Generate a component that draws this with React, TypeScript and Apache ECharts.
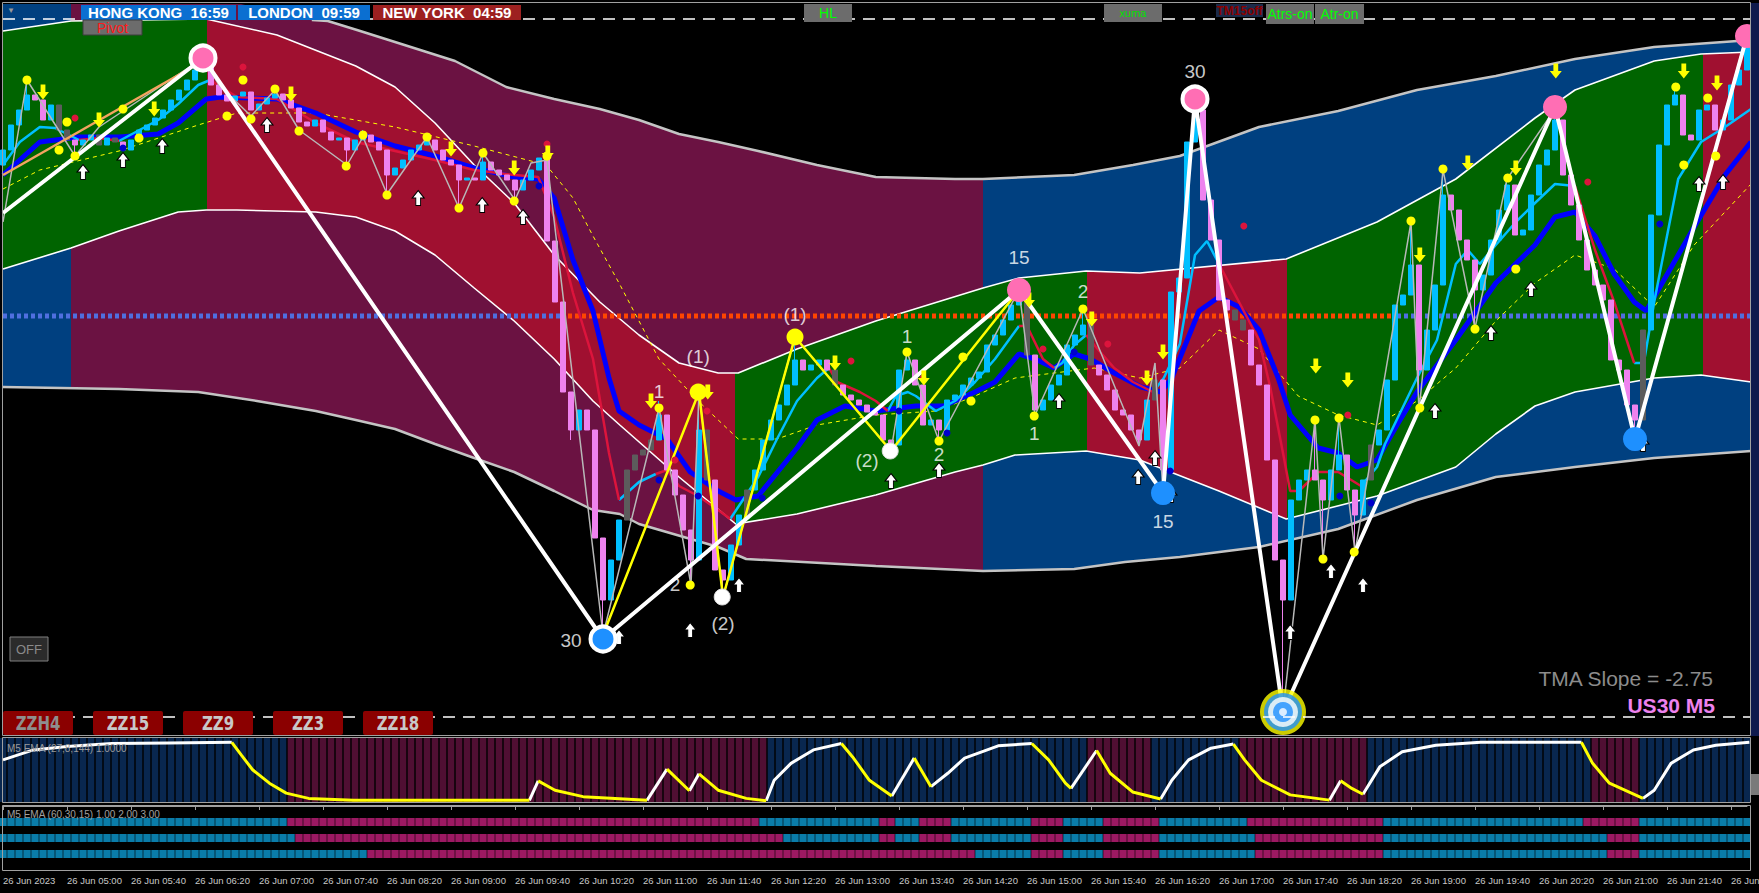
import React, { useEffect, useRef } from 'react';
import * as echarts from 'echarts';

// ---------------- time axis ----------------
const X_MAX = 218.375;
const FIRST_BAR_MINUTES = 4 * 60 + 20; // 04:20
const DAY_PREFIX = '26 Jun';
const FIRST_LABEL = '26 Jun 2023';

// ---------------- candles (US30 M5) ----------------
const firstOpen = 34235;
const closes = [
  34250, 34275, 34290, 34305, 34300, 34280, 34295, 34270, 34260, 34255,
  34260, 34265, 34255, 34262, 34258, 34250, 34260, 34270, 34275, 34282,
  34290, 34300, 34310, 34320, 34330, 34338, 34315, 34305, 34299, 34304,
  34308, 34290, 34296, 34302, 34306, 34300, 34292, 34278, 34274, 34280,
  34268, 34260, 34262, 34250, 34260, 34265, 34258, 34250, 34225, 34232,
  34240, 34250, 34255, 34260, 34250, 34240, 34235, 34220, 34222, 34220,
  34238, 34230, 34225, 34220, 34210, 34220, 34230, 34242, 34159, 34098,
  34008, 33970, 33990, 33970, 33862, 33800, 33840, 33880, 33930, 33945,
  33950, 33960, 33985, 33930, 33905, 33870, 33840, 33970, 33920, 33830,
  33820, 33855, 33885, 33910, 33930, 33960, 33980, 33995, 34015, 34040,
  34030, 34035, 34040, 34030, 34015, 34005, 34000, 33995, 33988, 33985,
  33960, 33955, 34030, 34040, 34015, 33975, 33980, 33970, 34000, 34005,
  34015, 34022, 34028, 34055, 34065, 34080, 34095, 34105, 34045, 33990,
  34000, 34015, 34025, 34055, 34065, 34075, 34035, 34025, 34010, 33990,
  33985, 33970, 33960, 34000, 34020, 33930, 34108, 34122, 34258, 34290,
  34200, 34160, 34100, 34090, 34080, 34070, 34035, 34015, 33940, 33840,
  33800, 33900, 33920, 33930, 33920, 33900, 33930, 33945, 33910, 33885,
  33920, 33955, 33970, 34020, 34095, 34105, 34135, 34030, 34070, 34115,
  34205, 34190, 34160, 34140, 34110, 34125, 34160, 34190, 34215, 34165,
  34170, 34205, 34235, 34250, 34280, 34225, 34195, 34160, 34130, 34115,
  34100, 34040, 34030, 33995, 33980, 34070, 34185, 34255, 34295, 34305,
  34265, 34260, 34290, 34295, 34270, 34280, 34315, 34330, 34360,
];
const highExtremes = [
  [3, 34320], [25, 34345], [34, 34312], [45, 34270], [53, 34263], [60, 34247], [68, 34250],
  [82, 33999], [87, 34008], [99, 34063], [113, 34048], [127, 34110], [135, 34091], [149, 34301],
  [164, 33980], [167, 33982], [176, 34178], [180, 34230], [188, 34223], [194, 34293], [209, 34315], [218, 34367],
];
const lowExtremes = [
  [9, 34244], [43, 34235], [48, 34205], [57, 34192], [64, 34200], [71, 33960], [75, 33761], [86, 33815],
  [90, 33803], [111, 33949], [117, 33959], [129, 33985], [142, 33954], [145, 33907], [160, 33688],
  [165, 33841], [169, 33848], [177, 33989], [184, 34072], [204, 33961],
];
const grayBars = [7, 8, 12, 14, 78, 79, 80, 81, 88, 93, 104, 128, 136, 144, 154, 155, 171, 205];

// ---------------- TMA bands ----------------
const outerUpper = [
  [0, 34396], [29.75, 34396], [38.6, 34380], [40.6, 34379], [44.25, 34370], [49, 34358], [56.5, 34339],
  [62.9, 34313], [68.9, 34301], [74.6, 34291], [79.5, 34280], [84.5, 34266], [89.4, 34258], [94.4, 34249],
  [101.75, 34235], [109.1, 34223], [119, 34221], [122.5, 34221], [133.9, 34225], [141.25, 34235],
  [147.1, 34244], [157, 34273], [166.9, 34289], [176.75, 34310], [186.6, 34324], [196.5, 34341],
  [206.4, 34353], [218.5, 34360],
];
const outerLower = [
  [0, 34013], [14.5, 34011], [24.4, 34008], [31.75, 33999], [39.1, 33989], [44.1, 33980], [49, 33971],
  [54, 33956], [58.9, 33942], [63.9, 33928], [68.9, 33909], [73.75, 33890], [77.1, 33886], [79.5, 33876],
  [89.4, 33853], [92.9, 33841], [109.1, 33834], [122.5, 33829], [133.9, 33831], [140.25, 33838],
  [147.1, 33843], [157, 33853], [166.9, 33871], [176.75, 33900], [186.6, 33923], [196.5, 33933],
  [206.4, 33942], [218.5, 33949],
];
const innerUpper = [
  [0, 34369], [8.5, 34379], [25.4, 34381], [34.25, 34365], [44.1, 34334], [49, 34313], [54, 34277],
  [58.9, 34235], [63.9, 34197], [68.9, 34145], [74.6, 34098], [79.5, 34065], [84.5, 34037], [89.4, 34027],
  [91.9, 34027], [99.25, 34051], [109.1, 34079], [122.5, 34112], [127, 34122], [135.4, 34129],
  [142.1, 34127], [160.4, 34141], [171.75, 34178], [181.6, 34221], [191.5, 34282], [196.5, 34310],
  [206.4, 34339], [212.25, 34346], [218.5, 34348],
];
const innerLower = [
  [0, 34131], [8.5, 34152], [14.5, 34169], [21.9, 34188], [25.4, 34190], [29.25, 34190], [39.1, 34188],
  [44.1, 34183], [49, 34169], [54, 34145], [58.9, 34112], [63.9, 34079], [68.9, 34041], [73.75, 33999],
  [77.1, 33975], [84.5, 33923], [91.6, 33876], [99.25, 33886], [109.1, 33905], [119, 33928],
  [122.5, 33935], [126.5, 33945], [135.4, 33949], [142.1, 33940], [152, 33909], [160.4, 33881],
  [171.75, 33904], [181.6, 33933], [186.6, 33966], [191.5, 33994], [196.5, 34008], [206.4, 34022],
  [212.25, 34025], [218.5, 34018],
];
const sessionStarts = [0, 8.5, 25.5, 91.5, 122.5, 135.5, 160.5, 212.5];
const sessionInner = ['green', 'green', 'crimson', 'green', 'green', 'crimson', 'green', 'crimson'];
const sessionOuter = ['blue', 'purple', 'purple', 'purple', 'blue', 'blue', 'blue', 'blue'];

// pivot level (dotted)
const pivotLevel = 34084;
const pivotSegments = [[0, 69.75, 'below'], [69.75, 174.25, 'above'], [174.25, 218.375, 'below']];

// ---------------- moving averages ----------------
const slowMa = [
  [0, 34225], [4.6, 34258], [9.5, 34263], [14.5, 34263], [19.4, 34266], [21.9, 34277], [25.4, 34301],
  [27.25, 34303], [34.25, 34301], [39.1, 34287], [44.1, 34268], [49, 34254], [54, 34244], [58.9, 34232],
  [63.9, 34223], [66.9, 34221], [68.9, 34202], [71.25, 34140], [73.75, 34089], [75.75, 34022], [77, 33989],
  [79.5, 33975], [83, 33961], [85.9, 33928], [89.4, 33909], [91.6, 33900], [94.4, 33904], [99.25, 33952],
  [101.75, 33980], [105.25, 33994], [109.1, 33989], [114.1, 33994], [117.6, 33994], [121.5, 34008],
  [124, 34018], [127, 34046], [129, 34041], [131.4, 34032], [133.9, 34046], [135.9, 34041], [138.9, 34027],
  [142.25, 34013], [144.75, 34008], [146.1, 34022], [149.5, 34089], [152, 34103], [154.5, 34093],
  [157, 34070], [159.4, 34022], [160.9, 33985], [164.4, 33952], [166.9, 33947], [169.25, 33933],
  [171.75, 33940], [174.25, 33975], [176.75, 34008], [181.6, 34060], [186.6, 34117], [191.5, 34155],
  [194, 34183], [196.5, 34188], [199, 34164], [201.4, 34126], [203.9, 34098], [205.4, 34089],
  [207.4, 34117], [211.4, 34173], [215.25, 34225], [218.5, 34258],
];
const fastMaUp = [
  [[0, 34235], [2.1, 34258], [4.6, 34273], [6.5, 34272], [9.5, 34260]],
  [[14.5, 34259], [19.4, 34280], [21.9, 34296], [24.4, 34315], [25.9, 34320]],
  [[77, 33900], [79.5, 33918], [81.6, 33926]],
  [[90.9, 33881], [94.4, 33923], [96.75, 33961], [99.25, 33999], [101.75, 34022], [103.25, 34032]],
  [[110.6, 33989], [111.6, 34004], [113.1, 34008], [114.1, 34004], [116.6, 33989], [119, 33999], [121.5, 34018], [124, 34041], [127, 34074]],
  [[131.4, 34032], [132.4, 34037], [133.9, 34055], [135.4, 34065]],
  [[143.75, 34008], [145.1, 34022], [147.1, 34056], [149, 34145], [150.5, 34159], [152, 34136]],
  [[169.75, 33914], [171.75, 33933], [172.75, 33956], [174.75, 33989], [176.75, 34022], [179.25, 34060], [181.6, 34136], [183.1, 34150], [184.6, 34136], [186.6, 34155], [189.1, 34178], [191.5, 34197], [194, 34216], [196.5, 34214]],
  [[203.9, 34037], [205.1, 34037], [206.4, 34098], [208, 34164], [209.4, 34221], [212.25, 34258], [215.25, 34273], [218.5, 34291]],
];
const fastMaDown = [
  [[9.5, 34260], [12, 34262], [14.5, 34259]],
  [[25.9, 34320], [29.25, 34303], [34.25, 34301], [39.1, 34277], [44.1, 34258], [49, 34249], [54, 34240], [58.9, 34230], [63.9, 34225], [66.9, 34223], [68.9, 34183], [71.25, 34107], [73.75, 34041], [75.75, 33947], [77, 33900]],
  [[81.6, 33926], [83, 33930], [84.5, 33914], [86.9, 33904], [89.4, 33890], [90.9, 33881]],
  [[103.25, 34032], [104.25, 34018], [107.1, 34008], [109.1, 33999], [110.6, 33989]],
  [[127, 34074], [128, 34074], [130, 34041], [131.4, 34032]],
  [[135.4, 34065], [136.4, 34055], [138.9, 34032], [141.25, 34018], [143.75, 34008]],
  [[152, 34136], [154.5, 34098], [157, 34060], [158.4, 34013], [160, 33947], [160.9, 33909], [162, 33909], [164.4, 33928], [166.9, 33928], [169.75, 33914]],
  [[196.5, 34214], [199, 34150], [201.4, 34098], [203.9, 34037]],
];
const signalMa = [
  [0, 34211], [4.6, 34230], [14.5, 34249], [24.4, 34275], [29.25, 34287], [39.1, 34287], [49, 34273],
  [58.9, 34254], [67.9, 34235], [71.25, 34202], [73.75, 34164], [77, 34117], [82, 34041], [86.9, 33999],
  [91.9, 33961], [96.75, 33961], [101.75, 33975], [109.1, 33985], [116.6, 33989], [121.5, 34004],
  [126.5, 34022], [131.4, 34027], [136.4, 34032], [142.1, 34022], [147.1, 34032], [152, 34070],
  [157, 34051], [161.9, 34004], [166.9, 33985], [171.75, 33975], [176.75, 33999], [181.6, 34032],
  [186.6, 34079], [191.5, 34117], [196.5, 34145], [201.4, 34131], [206.4, 34093], [211.4, 34155], [218.5, 34216],
];

// ---------------- zigzags ----------------
const zigzag30 = [
  [0, 34187], [25, 34342], [75, 33761], [127, 34110], [145, 33907], [149, 34301], [160, 33688],
  [194, 34293], [204, 33961], [218, 34364],
];
const waveZigzag = [[75, 33765], [87, 34008], [90, 33803], [99, 34063], [111, 33949], [127, 34110]];
const trendLine = [[0, 34225], [25, 34339]];
const minorZigzag = [
  [0, 34178], [3, 34320], [9, 34244], [12, 34273], [25, 34342], [27, 34315], [31, 34284], [34, 34310],
  [37, 34270], [43, 34235], [45, 34263], [48, 34206], [53, 34263], [57, 34192], [60, 34247], [64, 34200],
  [66, 34237], [68, 34240], [75, 33765], [82, 33992], [86, 33815], [87, 34008], [90, 33803], [99, 34063],
  [111, 33949], [113, 34048], [117, 33959], [127, 34110], [129, 33985], [135, 34091], [142, 33954],
  [144, 34037], [145, 33907], [149, 34301], [160, 33688], [164, 33980], [165, 33841], [167, 33982],
  [169, 33848], [176, 34178], [177, 33989], [180, 34230], [184, 34072], [188, 34221], [194, 34291],
  [204, 33961], [218, 34367],
];

// ---------------- signals ----------------
const sellArrows = [
  [5, 34308], [12, 34280], [18.9, 34291], [25.9, 34339], [36, 34306], [56, 34251], [63.9, 34232],
  [68.1, 34247], [81, 33999], [88.1, 34008], [104, 34037], [115.1, 34022], [128.25, 34100], [136.1, 34081],
  [143, 34022], [145, 34048], [150, 34299], [164.1, 34034], [168.1, 34020], [177.1, 34145], [183.1, 34237],
  [189.1, 34232], [194.1, 34329], [210.1, 34329], [214.25, 34317], [218.3, 34360],
];
const buyArrows = [
  [10, 34228], [15, 34240], [19.9, 34254], [33, 34275], [51.9, 34202], [59.9, 34195], [65, 34183],
  [77, 33763], [85.9, 33770], [92, 33815], [111, 33919], [117, 33930], [132, 33999], [141.9, 33923],
  [144, 33942], [146, 33905], [160.9, 33768], [166, 33829], [170, 33815], [179, 33989], [186, 34067],
  [191, 34111], [205, 33956], [212, 34216], [215, 34218],
];
const swingDots = [
  [3, 34320], [8, 34278], [7, 34250], [9, 34244], [15, 34291], [17, 34262], [28, 34284], [30, 34320],
  [31, 34281], [34, 34311], [37, 34269], [42.9, 34234], [45, 34265], [48, 34205], [53, 34263], [57, 34192],
  [60, 34247], [63.9, 34199], [68, 34244], [82, 33992], [85.9, 33815], [113, 34048], [117, 33959],
  [120, 34043], [121, 33999], [128.9, 33984], [135, 34091], [164, 33980], [165, 33841], [167, 33982],
  [168.9, 33848], [176, 34179], [177.1, 33992], [180, 34231], [184, 34071], [188.1, 34222], [189.1, 34131],
  [209.1, 34313], [210.1, 34235], [213.1, 34302], [214.1, 34244],
];
const redDots = [
  [9, 34282], [30, 34333], [68, 34256], [84, 33940], [88, 33989], [106, 34039], [115, 34022], [130, 34051],
  [138.1, 34056], [155.1, 34174], [168.1, 33985], [198.1, 34218],
];
const blueDots = [
  [15, 34252], [67, 34214], [82, 33920], [86.9, 33904], [94.9, 33902], [112, 33989], [118, 33967],
  [133.9, 34048], [145.9, 33929], [167.1, 33904], [171, 33897], [207.1, 34176],
];
const waveOneDots = [[86.9, 34008], [99, 34063]];
const waveTwoDots = [[89.9, 33803], [110.9, 33949]];
const peakRings = [[25, 34342], [149, 34301]];
const peakDots = [[127, 34110], [194, 34293], [218, 34364]];
const troughRings = [[75, 33761]];
const troughDots = [[145, 33907], [204, 33961]];
const majorTrough = [160, 33688];
const waveLabels = [
  [71, 33760, '30'], [86.9, 34044, '(1)'], [82, 34009, '1'], [84, 33816, '2'], [90, 33777, '(2)'],
  [99, 34086, '(1)'], [113, 34064, '1'], [108, 33940, '(2)'], [117, 33946, '2'], [128.9, 33967, '1'],
  [127, 34143, '15'], [135, 34109, '2'], [145, 33879, '15'], [149, 34329, '30'],
];

// ---------------- indicator 1: M5 EMA (27,8,144) ----------------
const trendStarts = [0, 36, 96, 136, 144, 155, 171, 199, 205];
const trendKinds = ['bull', 'bear', 'bull', 'bear', 'bull', 'bear', 'bull', 'bear', 'bull'];
const oscRising = [
  [[0, 0.7], [3.8, 0.87], [8, 0.93], [13.6, 0.98], [20.7, 0.99], [28.6, 1.0]],
  [[65.8, 0.006], [66.9, 0.34]],
  [[80.5, 0.006], [83, 0.54]],
  [[85.8, 0.17], [87, 0.46]],
  [[95.4, 0.0], [96.4, 0.35], [98.5, 0.64], [101.3, 0.87], [104.8, 0.98]],
  [[111.1, 0.08], [113.9, 0.73]],
  [[116, 0.24], [118.1, 0.47], [120.2, 0.73], [124.4, 0.94], [128.6, 0.98]],
  [[133.5, 0.21], [136.7, 0.86]],
  [[144.7, 0.03], [146.1, 0.35], [148.2, 0.7], [151, 0.9], [153.8, 0.97]],
  [[165.8, 0.01], [167.2, 0.34]],
  [[170, 0.11], [172.1, 0.58], [174.9, 0.84], [179.1, 0.95], [184.7, 1.0], [197.3, 1.0]],
  [[205, 0.04], [206.4, 0.18], [208.5, 0.64], [211.3, 0.87], [214.1, 0.95], [218.3, 1.0]],
];
const oscFalling = [
  [[28.6, 1.0], [29.8, 0.78], [31.2, 0.53], [33.3, 0.3], [35.4, 0.13], [38.2, 0.04], [43.8, 0.01], [65.8, 0.006]],
  [[66.9, 0.34], [69, 0.18], [72.5, 0.07], [80.5, 0.006]],
  [[83, 0.54], [85.8, 0.17]],
  [[87, 0.46], [89.4, 0.18], [92.9, 0.04], [95.4, 0.0]],
  [[104.8, 0.98], [106.2, 0.75], [108.3, 0.35], [111.1, 0.08]],
  [[113.9, 0.73], [116, 0.24]],
  [[128.6, 0.98], [130.7, 0.7], [132.8, 0.3], [133.5, 0.21]],
  [[136.7, 0.86], [138.4, 0.47], [141.2, 0.15], [144.7, 0.03]],
  [[153.8, 0.97], [155.2, 0.7], [157.3, 0.35], [160.9, 0.1], [165.8, 0.01]],
  [[167.2, 0.34], [168.6, 0.21], [170, 0.11]],
  [[197.3, 1.0], [198.7, 0.64], [200.8, 0.3], [205, 0.04]],
];

// ---------------- indicator 2: M5 EMA (60,30,15) ----------------
const ribbonRows = [
  [[0, 'up'], [36, 'dn'], [95, 'up'], [110, 'dn'], [112, 'up'], [115, 'dn'], [119, 'up'], [129, 'dn'], [133, 'up'], [138, 'dn'], [145, 'up'], [156, 'dn'], [173, 'up'], [198, 'dn'], [205, 'up']],
  [[0, 'up'], [37, 'dn'], [98, 'up'], [110, 'dn'], [112, 'up'], [115, 'dn'], [119, 'up'], [129, 'dn'], [133, 'up'], [138, 'dn'], [145, 'up'], [157, 'dn'], [173, 'up'], [201, 'dn'], [205, 'up']],
  [[0, 'up'], [46, 'dn'], [122, 'up'], [129, 'dn'], [133, 'up'], [138, 'dn'], [145, 'up'], [157, 'dn'], [173, 'up'], [201, 'dn'], [205, 'up']],
];

// ---------------- styling ----------------
const FONT = "'Liberation Sans', Arial, sans-serif";
const BAND: Record<string, string> = { green: '#006400', crimson: '#a01030', purple: '#6b1242', blue: '#004080' };
const CYAN = '#00bfff';
const PINK = '#ee82ee';
const GRAY = '#5c5c5c';

function valueAt(curve: number[][], x: number): number {
  if (x <= curve[0][0]) return curve[0][1];
  for (let k = 1; k < curve.length; k++) {
    if (x <= curve[k][0]) {
      const [xa, ya] = curve[k - 1];
      const [xb, yb] = curve[k];
      return ya + ((yb - ya) * (x - xa)) / (xb - xa);
    }
  }
  return curve[curve.length - 1][1];
}
function slice(curve: number[][], x0: number, x1: number): number[][] {
  const out = [[x0, valueAt(curve, x0)]];
  for (const p of curve) if (p[0] > x0 && p[0] < x1) out.push(p);
  out.push([x1, valueAt(curve, x1)]);
  return out;
}
function kindAt(changes: any[], i: number): string {
  let k = changes[0][1];
  for (const c of changes) if (i >= c[0]) k = c[1];
  return k;
}
function timeLabel(v: number): string {
  if (v === 0) return FIRST_LABEL;
  const t = FIRST_BAR_MINUTES + 5 * v;
  const h = Math.floor(t / 60);
  const m = Math.round(t % 60);
  return `${DAY_PREFIX} ${String(h).padStart(2, '0')}:${String(m).padStart(2, '0')}`;
}

function line(data: any[], color: string, width: number, z = 3, extra: any = {}, axis = 0) {
  return {
    type: 'line', xAxisIndex: axis, yAxisIndex: axis, data, symbol: 'none', silent: true, z,
    lineStyle: { color, width, ...extra }, animation: false,
  };
}
function dots(data: any[], size: any, color: string, z = 6, extra: any = {}, symbol = 'circle') {
  return {
    type: 'scatter', xAxisIndex: 0, yAxisIndex: 0, data, symbol, symbolSize: size, silent: true, z,
    itemStyle: { color, opacity: 1, ...extra },
  };
}

function buildOption() {
  const highMap: Record<number, number> = {};
  highExtremes.forEach(([i, v]) => (highMap[i] = v));
  const lowMap: Record<number, number> = {};
  lowExtremes.forEach(([i, v]) => (lowMap[i] = v));

  const candleData = closes.map((c, i) => {
    const o = i === 0 ? firstOpen : closes[i - 1];
    const h = Math.max(o, c, highMap[i] ?? -Infinity);
    const l = Math.min(o, c, lowMap[i] ?? Infinity);
    const item: any = { value: [i, o, c, l, h] };
    if (grayBars.includes(i)) item.itemStyle = { color: GRAY, color0: GRAY, borderColor: GRAY, borderColor0: GRAY };
    return item;
  });

  const bars = closes.map((_, i) => i);
  const timeCategories = bars.map((i) => timeLabel(i));
  const trendBars = bars.map((i) => {
    let k = trendKinds[0];
    trendStarts.forEach((s, j) => { if (i >= s) k = trendKinds[j]; });
    return { value: [i, 0.526], itemStyle: { color: k === 'bull' ? '#0b3163' : '#641340' } };
  });
  const ribbonCells: any[] = [];
  ribbonRows.forEach((row, r) => {
    bars.forEach((i) => {
      ribbonCells.push({ value: [i, r + 1], itemStyle: { color: kindAt(row, i) === 'up' ? '#0c9bd3' : '#c31f7b' } });
    });
  });

  const downArrow = 'path://M3,0 L7,0 L7,6 L10,6 L5,12 L0,6 L3,6 Z';
  const upArrow = 'path://M5,0 L10,6 L7,6 L7,12 L3,12 L3,6 L0,6 Z';

  const series: any[] = [
    {
      type: 'custom', xAxisIndex: 0, yAxisIndex: 0, z: 1, silent: true,
      data: sessionStarts.map((s, i) => [s, 34000, i]),
      encode: { x: 0, y: 1 },
      renderItem: (params: any, api: any) => {
        const i = api.value(2) as number;
        const x0 = sessionStarts[i];
        const x1 = i + 1 < sessionStarts.length ? sessionStarts[i + 1] + 0.06 : X_MAX;
        const pts = (curve: number[][]) => slice(curve, x0, x1).map((p) => api.coord(p));
        return {
          type: 'group',
          children: [
            { type: 'polygon', shape: { points: [...pts(outerUpper), ...pts(outerLower).reverse()] }, style: { fill: BAND[sessionOuter[i]] } },
            { type: 'polygon', shape: { points: [...pts(innerUpper), ...pts(innerLower).reverse()] }, style: { fill: BAND[sessionInner[i]] } },
          ],
        };
      },
    },
    line(outerUpper.filter((p) => p[1] < 34396), '#c4c4c4', 2.5, 2),
    line(outerLower, '#c4c4c4', 2.5, 2),
    line(innerUpper, '#ffffff', 1.6, 2),
    line(innerLower, '#ffffff', 1.6, 2),
    ...pivotSegments.map(([a, b, side]) =>
      line([[a, pivotLevel], [b, pivotLevel]], side === 'above' ? '#ff4500' : '#4f6fe0', 5, 2, { type: [4, 3] })),
    line(signalMa, '#ffff00', 1, 3, { type: [4, 4] }),
    line(slowMa, '#0000ff', 5, 3),
    {
      type: 'candlestick', xAxisIndex: 0, yAxisIndex: 0, data: candleData, barWidth: 5, silent: true, z: 4,
      itemStyle: { color: CYAN, color0: PINK, borderColor: CYAN, borderColor0: PINK, borderWidth: 1 },
    },
    ...fastMaUp.map((seg) => line(seg, CYAN, 2.5, 4)),
    ...fastMaDown.map((seg) => line(seg, '#dc143c', 2.5, 4)),
    line(minorZigzag, '#b8b8b8', 1.5, 5),
    line(trendLine, '#f4a460', 2.5, 5),
    line(waveZigzag, '#ffff00', 2.5, 5),
    line(zigzag30, '#ffffff', 4, 5),
    dots(swingDots, 9, '#ffff00', 6),
    dots(redDots, 7, '#dc143c', 6),
    dots(blueDots, 7, '#0000cd', 6),
    dots(sellArrows, [12, 15], '#ffff00', 7, {}, downArrow),
    dots(buyArrows, [12, 15], '#ffffff', 7, { borderColor: '#000', borderWidth: 1 }, upArrow),
    dots(waveOneDots, 17, '#ffff00', 8),
    dots(waveTwoDots, 16, '#ffffff', 8, { borderColor: '#dddddd', borderWidth: 1 }),
    dots(peakRings, 25, '#ff6eb4', 8, { borderColor: '#ffffff', borderWidth: 4 }),
    dots(peakDots, 24, '#ff6eb4', 8),
    dots(troughRings, 25, '#1e90ff', 8, { borderColor: '#ffffff', borderWidth: 4 }),
    dots(troughDots, 24, '#1e90ff', 8),
    {
      type: 'scatter', xAxisIndex: 0, yAxisIndex: 0, z: 8, silent: true,
      data: [
        { value: majorTrough, symbolSize: 46, itemStyle: { color: '#ffff00' } },
        { value: majorTrough, symbolSize: 38, itemStyle: { color: '#1e90ff' } },
        { value: majorTrough, symbolSize: 30, itemStyle: { color: '#ffffff' } },
        { value: majorTrough, symbolSize: 20, itemStyle: { color: '#1e90ff' } },
        { value: majorTrough, symbolSize: 8, itemStyle: { color: '#ffffff' } },
      ],
    },
    {
      type: 'scatter', xAxisIndex: 0, yAxisIndex: 0, z: 9, silent: true, symbolSize: 2,
      itemStyle: { color: 'rgba(0,0,0,0)' },
      data: waveLabels.map(([x, y, t]) => ({ value: [x, y], name: t })),
      label: { show: true, position: 'inside', formatter: '{b}', color: '#ffffff', fontSize: 19, fontFamily: FONT },
    },
    // indicator 1
    {
      type: 'scatter', xAxisIndex: 1, yAxisIndex: 1, data: trendBars, symbol: 'rect', symbolSize: [6.6, 64],
      silent: true, z: 2,
    },
    ...oscRising.map((seg) => line(seg, '#ffffff', 3, 3, {}, 1)),
    ...oscFalling.map((seg) => line(seg, '#ffff00', 3, 3, {}, 1)),
    // indicator 2
    {
      type: 'scatter', xAxisIndex: 2, yAxisIndex: 2, data: ribbonCells, symbol: 'rect', symbolSize: [7.4, 8],
      silent: true, z: 2,
    },
  ];

  const g: any[] = [];
  const rect = (x: number, y: number, w: number, h: number, fill: string, stroke?: string, r = 0) =>
    g.push({ type: 'rect', z: 100, silent: true, shape: { x, y, width: w, height: h, r }, style: { fill, stroke: stroke || 'none', lineWidth: stroke ? 1 : 0 } });
  const text = (x: number, y: number, t: string, fill: string, size: number, o: any = {}) =>
    g.push({
      type: 'text', z: 101, silent: true, x, y, scaleX: o.scaleX || 1,
      style: { text: t, fill, font: `${o.bold ? 'bold ' : ''}${size}px ${o.family || FONT}`, textAlign: o.align || 'left', textVerticalAlign: 'middle' },
    });
  const dashed = (y: number) =>
    g.push({ type: 'line', z: 100, silent: true, shape: { x1: 3, y1: y, x2: 1750, y2: y }, style: { stroke: '#ffffff', lineWidth: 1.5, lineDash: [12, 8] } });

  dashed(19);
  dashed(717);
  rect(1751, 3, 8, 733, '#0f1a4d');
  rect(2.5, 2.5, 1748, 733, 'none', '#a0a0a0');
  rect(2.5, 737.5, 1748, 65, 'none', '#a0a0a0');
  rect(2.5, 805.5, 1748, 65, 'none', '#a0a0a0');
  rect(1751, 774, 8, 21, '#7a7a7a');
  text(7, 10, '▼', '#9a9a9a', 8);
  rect(81, 5, 155, 15, '#0b6fd1');
  text(158.5, 12.5, 'HONG KONG  16:59', '#ffffff', 15, { bold: true, align: 'center' });
  rect(238, 5, 132, 15, '#0b6fd1');
  text(304, 12.5, 'LONDON  09:59', '#ffffff', 15, { bold: true, align: 'center' });
  rect(373, 5, 148, 15, '#9d2020');
  text(447, 12.5, 'NEW YORK  04:59', '#ffffff', 15, { bold: true, align: 'center' });
  rect(83, 20, 59, 15, '#6c6c6c', '#3c3c3c');
  text(112.5, 28, 'Pivot', '#ff1a1a', 14, { align: 'center' });
  rect(804, 4, 48, 18, '#6c6c6c');
  text(828, 13, 'HL', '#00ff00', 14, { align: 'center' });
  rect(1104, 4, 58, 18, '#6c6c6c');
  text(1133, 13, 'xuma', '#00e000', 11, { align: 'center' });
  rect(1216, 4, 47, 13, '#1c2b4a');
  text(1239.5, 10.5, 'TM15off', '#8b0000', 12, { bold: true, align: 'center' });
  rect(1266, 4, 48, 20, '#6c6c6c');
  text(1290, 14, 'Atrs-on', '#00ff00', 14, { align: 'center' });
  rect(1315, 4, 49, 20, '#6c6c6c');
  text(1339.5, 14, 'Atr-on', '#00ff00', 14, { align: 'center' });
  rect(10, 637, 38, 24, '#2b2b2b', '#808080');
  text(29, 649, 'OFF', '#8a8a8a', 13, { align: 'center' });
  const zz = [['ZZH4', 3, '#8e8e8e'], ['ZZ15', 93, '#c8c8c8'], ['ZZ9', 183, '#c8c8c8'], ['ZZ3', 273, '#c8c8c8'], ['ZZ18', 363, '#c8c8c8']];
  zz.forEach(([t, x, c]: any) => {
    rect(x, 711, 70, 24, '#8b0000', undefined, 2);
    text(x + 35, 723.5, t, c, 20, { bold: true, align: 'center', scaleX: 0.75, family: "'DejaVu Sans', sans-serif" });
  });
  text(1713, 678, 'TMA Slope = -2.75', '#8c8c8c', 21, { align: 'right' });
  text(1715, 705, 'US30 M5', '#ee82ee', 21, { bold: true, align: 'right' });
  text(7, 748, 'M5 EMA (27,8,144) 1.0000', '#9a9a9a', 10);
  text(7, 814, 'M5 EMA (60,30,15) 1.00 2.00 3.00', '#a0a0a0', 10);

  const hiddenX = (gi: number) => ({
    gridIndex: gi, type: 'value', min: 0, max: X_MAX, show: false, splitLine: { show: false },
  });

  return {
    animation: false,
    backgroundColor: '#000000',
    grid: [
      { left: 3, top: 4, width: 1747, height: 731, outerBoundsMode: 'none', containLabel: false },
      { left: 3, top: 738, width: 1747, height: 64, outerBoundsMode: 'none', containLabel: false },
      { left: 3, top: 806, width: 1744, height: 64, outerBoundsMode: 'none', containLabel: false },
    ],
    xAxis: [
      hiddenX(0),
      hiddenX(1),
      {
        gridIndex: 2, type: 'category', data: timeCategories, boundaryGap: false,
        splitLine: { show: false },
        axisLine: { show: true, lineStyle: { color: '#a0a0a0' } },
        axisTick: { show: true, length: 4, interval: 7, lineStyle: { color: '#a0a0a0' } },
        axisLabel: {
          show: true, interval: 7, align: 'left', margin: 5, color: '#c8c8c8', fontSize: 9.5,
          fontFamily: FONT,
        },
      },
    ],
    yAxis: [
      { gridIndex: 0, type: 'value', min: 33665, max: 34396, show: false, splitLine: { show: false } },
      { gridIndex: 1, type: 'value', min: -0.022, max: 1.074, show: false, splitLine: { show: false } },
      { gridIndex: 2, type: 'value', min: 0, max: 4, inverse: true, show: false, splitLine: { show: false } },
    ],
    graphic: { elements: g },
    series,
  };
}

export default function App() {
  const ref = useRef<HTMLDivElement>(null);
  useEffect(() => {
    document.body.style.margin = '0';
    document.body.style.background = '#000';
    const chart = echarts.init(ref.current as HTMLDivElement, null, { renderer: 'svg' });
    chart.setOption(buildOption() as any);
    return () => chart.dispose();
  }, []);
  return (
    <div
      ref={ref}
      style={{ position: 'fixed', left: 0, top: 0, width: 1759, height: 893, background: '#000' }}
    />
  );
}
